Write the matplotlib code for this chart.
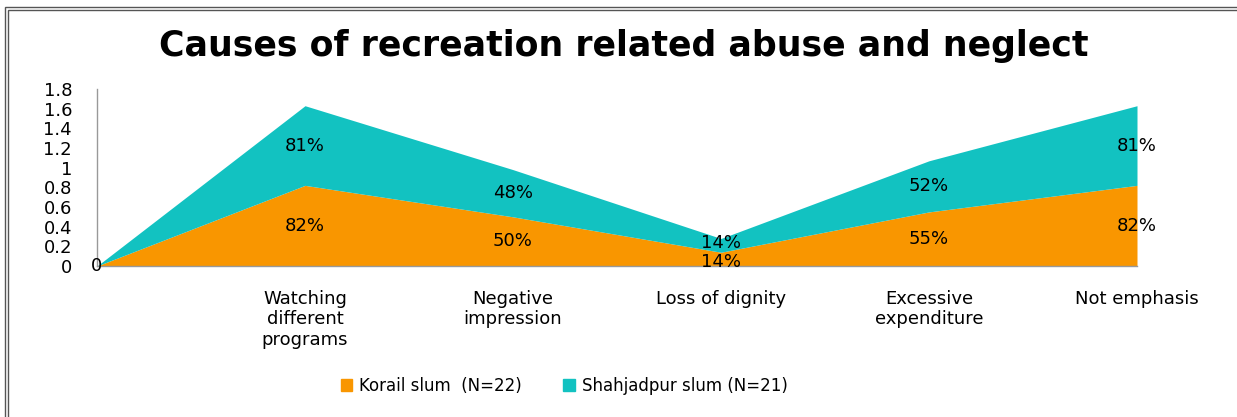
import numpy as np
from matplotlib import pyplot as plt
from matplotlib.patches import Rectangle, Patch

plt.rcParams['font.family'] = ['DejaVu Sans']

categories = ["", "Watching\ndifferent\nprograms", "Negative\nimpression",
              "Loss of dignity", "Excessive\nexpenditure", "Not emphasis"]
korail = [0, 0.82, 0.50, 0.14, 0.55, 0.82]
shahjadpur = [0, 0.81, 0.48, 0.14, 0.52, 0.81]
series_names = ["Korail slum  (N=22)", "Shahjadpur slum (N=21)"]
yticks = [0, 0.2, 0.4, 0.6, 0.8, 1, 1.2, 1.4, 1.6, 1.8]

orange = "#F99600"
teal = "#12C2C1"
fs = 13

fig = plt.figure(figsize=(12.37, 4.17), dpi=100)
ax = fig.add_axes([97 / 1237, 1 - 266 / 417, 1040 / 1237, 177 / 417])

x = np.arange(len(categories))
k = np.array(korail)
s = np.array(shahjadpur)
ax.fill_between(x, 0, k, color=orange, lw=0)
ax.fill_between(x, k, k + s, color=teal, lw=0)

# data labels in the middle of each band; thin bands get pushed apart a little
for i in range(len(x)):
    if i == 0:
        ax.text(x[i], 0, "0", ha="center", va="center", fontsize=fs)
        continue
    nudge = 2 if min(k[i], s[i]) < 0.2 else 0
    ax.annotate(f"{k[i] * 100:.0f}%", (x[i], k[i] / 2), xytext=(0, -nudge),
                textcoords="offset points", ha="center", va="center", fontsize=fs)
    ax.annotate(f"{s[i] * 100:.0f}%", (x[i], k[i] + s[i] / 2), xytext=(0, nudge),
                textcoords="offset points", ha="center", va="center", fontsize=fs)

ax.set_xlim(0, len(x) - 1)
ax.set_ylim(0, 1.8)
ax.set_yticks(yticks)
ax.set_yticklabels([f"{t:g}" for t in yticks], fontsize=fs)
ax.set_xticks(x)
ax.set_xticklabels(categories, fontsize=fs, linespacing=1.2, va="top")
ax.tick_params(axis="y", length=0, pad=18)
ax.tick_params(axis="x", length=0, pad=17)
for side in ["top", "right"]:
    ax.spines[side].set_visible(False)
for side in ["left", "bottom"]:
    ax.spines[side].set_color("#999999")
    ax.spines[side].set_linewidth(1)

fig.text(624 / 1237, 1 - 46 / 417, "Causes of recreation related abuse and neglect",
         ha="center", va="center", fontsize=25, fontweight="bold")

handles = [Patch(color=orange), Patch(color=teal)]
fig.legend(handles, series_names, loc="center", bbox_to_anchor=(564 / 1237, 1 - 386 / 417),
           ncol=2, frameon=False, fontsize=12, handlelength=0.7, handleheight=0.7,
           handletextpad=0.4, columnspacing=2.5)

# double frame around the chart area
for left, top in ((5, 7), (8, 10)):
    fig.patches.append(Rectangle((left / 1237, -0.1), 1.2, 1 - top / 417 + 0.1,
                                 transform=fig.transFigure, fill=False,
                                 edgecolor="#555555", lw=1))

fig.savefig("out.png", dpi=100)
